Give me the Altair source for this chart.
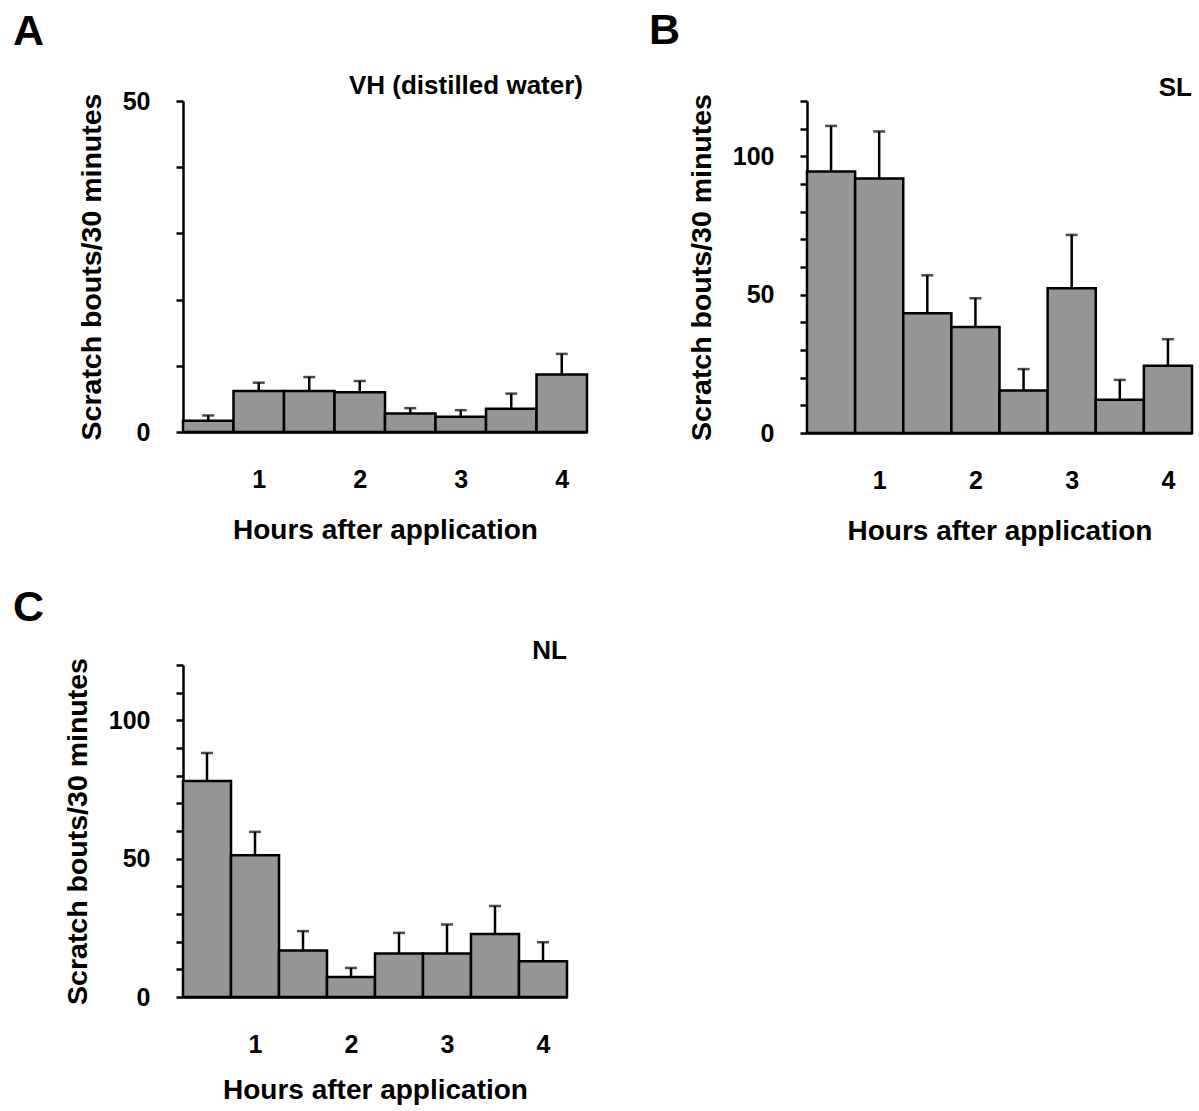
import altair as alt
import pandas as pd

FONT = "Liberation Sans"

bins = [1, 2, 3, 4, 5, 6, 7, 8]          # half-hour bins
hours = [1, 2, 3, 4]                      # x tick labels
x_title = "Hours after application"
y_title = "Scratch bouts/30 minutes"

vh_mean = [1.7, 6.2, 6.2, 6.0, 2.8, 2.3, 3.5, 8.7]
vh_se = [0.8, 1.25, 2.1, 1.7, 0.8, 1.0, 2.3, 3.1]
sl_mean = [94.5, 92.0, 43.3, 38.3, 15.4, 52.3, 12.0, 24.3]
sl_se = [16.5, 17.0, 13.7, 10.4, 7.7, 19.3, 7.2, 9.6]
nl_mean = [78.1, 51.2, 16.8, 7.2, 15.7, 15.7, 22.8, 12.9]
nl_se = [10.1, 8.5, 7.0, 3.3, 7.5, 10.5, 10.1, 6.9]

letters = ["A", "B", "C"]
names = ["VH (distilled water)", "SL", "NL"]
ymaxes = [50, 120, 120]


def panel(means, ses, ymax, width, height, letter, name, letter_dx, letter_dy,
          sub_dx, sub_dy, x_title_pad):
    df = pd.DataFrame({"bin": bins, "mean": means, "se": ses})
    df["start"] = df["bin"] - 1
    df["end"] = df["bin"]
    df["center"] = df["bin"] - 0.5
    df["upper"] = df["mean"] + df["se"]

    xscale = alt.Scale(domain=[0, len(bins)], nice=False, zero=False)
    yscale = alt.Scale(domain=[0, ymax], nice=False)
    tick_pos = [2 * h - 0.5 for h in hours]
    xaxis = alt.Axis(
        values=tick_pos, labelExpr="(datum.value + 0.5) / 2", ticks=False, tickSize=0,
        grid=False, domainColor="black", domainWidth=2.5, labelAngle=0,
        labelFont=FONT, labelFontSize=25, labelFontWeight="bold", labelColor="black",
        labelPadding=35, title=x_title, titleFont=FONT, titleFontSize=28,
        titleFontWeight="bold", titleColor="black", titlePadding=x_title_pad,
    )
    yaxis = alt.Axis(
        values=list(range(0, ymax + 1, 10)),
        labelExpr="datum.value % 50 == 0 ? datum.label : ''",
        grid=False, domainColor="black", domainWidth=2.5, tickColor="black",
        tickWidth=2.5, tickSize=7, labelFont=FONT, labelFontSize=25,
        labelFontWeight="bold", labelColor="black", labelPadding=26,
        title=y_title, titleFont=FONT, titleFontSize=28.5, titleFontWeight="bold",
        titleColor="black", titlePadding=16,
    )
    base = alt.Chart(df)
    bars = base.mark_rect(fill="#969696", stroke="black", strokeWidth=2.5).encode(
        x=alt.X("start:Q", scale=xscale, axis=xaxis),
        x2="end:Q",
        y=alt.Y("mean:Q", scale=yscale, axis=yaxis),
        y2=alt.datum(0),
    )
    stems = base.mark_rule(color="black", strokeWidth=2.5).encode(
        x=alt.X("center:Q", scale=xscale, axis=xaxis),
        y=alt.Y("mean:Q", scale=yscale, axis=yaxis),
        y2="upper:Q",
    )
    caps = base.mark_tick(orient="horizontal", size=12, thickness=2.5, color="black").encode(
        x=alt.X("center:Q", scale=xscale, axis=xaxis),
        y=alt.Y("upper:Q", scale=yscale, axis=yaxis),
    )
    lt = alt.Chart(pd.DataFrame({"t": [letter]})).mark_text(
        align="left", baseline="alphabetic", font=FONT, fontSize=43,
        fontWeight="bold", color="black",
    ).encode(text="t:N", x=alt.value(letter_dx), y=alt.value(letter_dy))
    st = alt.Chart(pd.DataFrame({"t": [name]})).mark_text(
        align="right", baseline="middle", font=FONT, fontSize=26,
        fontWeight="bold", color="black",
    ).encode(text="t:N", x=alt.value(sub_dx), y=alt.value(sub_dy))
    return alt.layer(stems, bars, caps, lt, st).properties(width=width, height=height)


pa = panel(vh_mean, vh_se, ymaxes[0], 404, 331, letters[0], names[0], -170, -56, 400, -15, 24)
pb = panel(sl_mean, sl_se, ymaxes[1], 385, 332, letters[1], names[1], -158, -57, 385, -13, 24)
pc = panel(nl_mean, nl_se, ymaxes[2], 384, 332, letters[2], names[2], -170, -44, 384, -14, 19)

chart = alt.vconcat(
    alt.hconcat(pa, pb, spacing=60),
    pc,
    spacing=42,
).properties(
    padding={"left": 13, "top": 10, "right": 5, "bottom": 5},
    background="white",
).configure_view(stroke=None)

chart.save("out.html", embed_options={"renderer": "svg", "actions": False})
